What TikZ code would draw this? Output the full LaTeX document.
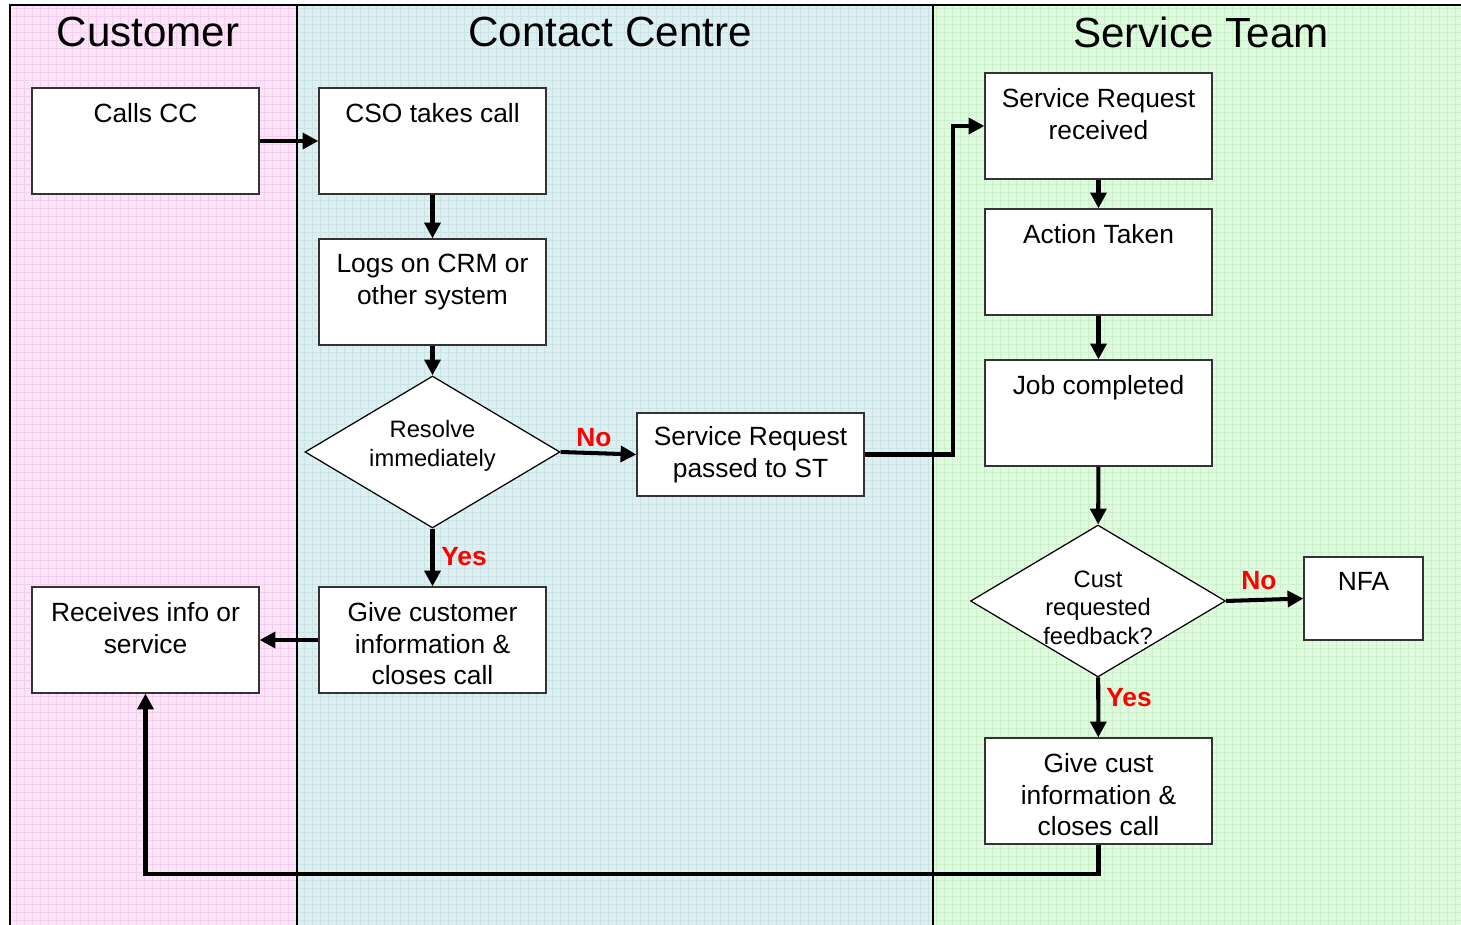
\documentclass[tikz,border=0pt]{standalone}
\usepackage{fontspec}
\setmainfont{Liberation Sans}
\usetikzlibrary{arrows.meta,shapes.geometric}

\definecolor{custfill}{RGB}{251,230,248}
\definecolor{custgrid}{RGB}{245,206,240}
\definecolor{ccfill}{RGB}{222,239,241}
\definecolor{ccgrid}{RGB}{202,228,232}
\definecolor{stfill}{RGB}{224,250,224}
\definecolor{stgrid}{RGB}{203,242,203}
\definecolor{answer}{RGB}{255,0,0}

\tikzset{
  box/.style={draw=black!80, line width=0.7pt, fill=white, minimum width=4.54cm, minimum height=2.12cm, inner sep=0pt},
  boxtext/.style={anchor=north, yshift=-0.31cm, inner sep=0pt, align=center, font=\fontsize{15}{18.1}\selectfont},
  passbox/.style={box, minimum height=1.66cm, align=center, font=\fontsize{15}{18.1}\selectfont},
  decision/.style={diamond, aspect=1.68, draw=black, line width=0.7pt, fill=white, minimum width=5.1cm, minimum height=3.04cm, inner sep=0pt},
  decisiontext/.style={anchor=center, inner sep=0pt, align=center, font=\fontsize{13.5}{16.3}\selectfont},
  flow/.style={line width=2.3pt, -{Triangle[length=9pt,width=9pt]}},
  answertext/.style={text=answer, font=\fontsize{15}{18}\selectfont\bfseries},
  lanetitle/.style={font=\fontsize{24}{28}\selectfont},
  lanegrid/.style={line width=0.3pt, step=0.16cm}
}

\begin{document}
\begin{tikzpicture}[x=0.02cm, y=-0.02cm]
    \useasboundingbox (0,0) rectangle (1461,925);

    % Corsie
    \fill[custfill] (10,5) rectangle (297,925);
    \fill[ccfill] (297,5) rectangle (933,925);
    \fill[stfill] (933,5) rectangle (1461,925);
    \begin{scope}
        \clip (10,5) rectangle (297,925);
        \draw[lanegrid, custgrid] (0,930) grid (300,0);
    \end{scope}
    \begin{scope}
        \clip (297,5) rectangle (933,925);
        \draw[lanegrid, ccgrid] (290,930) grid (940,0);
    \end{scope}
    \begin{scope}
        \clip (933,5) rectangle (1461,925);
        \draw[lanegrid, stgrid] (930,930) grid (1461,0);
    \end{scope}
    \draw[line width=1.1pt] (10,925) -- (10,5) -- (1461,5);
    \draw[line width=1.1pt] (297,5) -- (297,925);
    \draw[line width=1.1pt] (933,5) -- (933,925);

    % Titoli
    \node[lanetitle] (custtitle) at (148,32) {Customer};
    \node[lanetitle] (cctitle) at (610,32) {Contact Centre};
    \node[lanetitle] (sttitle) at (1201,32) {Service Team};

    % Customer
    \node[box, label={[boxtext]north:Calls CC}] (calls) at (145.5,141) {};
    \node[box, label={[boxtext]north:Receives info or\\service}] (receives) at (145.5,640) {};

    % Contact Centre
    \node[box, label={[boxtext]north:CSO takes call}] (cso) at (432.5,141) {};
    \node[box, label={[boxtext]north:Logs on CRM or\\other system}] (logs) at (432.5,292) {};
    \node[decision, label={[decisiontext, yshift=0.12cm]center:Resolve\\immediately}] (resolve) at (432.5,452) {};
    \node[box, label={[boxtext]north:Give customer\\information \&\\closes call}] (givecust) at (432.5,640) {};
    \node[passbox] (srpass) at (750.5,454.5) {Service Request\\passed to ST};

    % Service Team
    \node[box, label={[boxtext]north:Service Request\\received}] (srrec) at (1098.5,126) {};
    \node[box, label={[boxtext]north:Action Taken}] (action) at (1098.5,262) {};
    \node[box, label={[boxtext]north:Job completed}] (job) at (1098.5,413) {};
    \node[decision, label={[decisiontext, yshift=-0.13cm]center:Cust\\requested\\feedback?}] (feedback) at (1098,601) {};
    \node[box, minimum width=2.38cm, minimum height=1.66cm, label={[boxtext]north:NFA}] (nfa) at (1363.5,598.5) {};
    \node[box, label={[boxtext]north:Give cust\\information \&\\closes call}] (givecust2) at (1098.5,791) {};

    % Risposte
    \node[answertext] (noA) at (594,438) {No};
    \node[answertext] (yesA) at (464,557) {Yes};
    \node[answertext] (noB) at (1259,581) {No};
    \node[answertext] (yesB) at (1129,698) {Yes};

    % Frecce
    \draw[flow] (calls) -- (cso);
    \draw[flow] (cso) -- (logs);
    \draw[flow] (logs) -- (resolve);
    \draw[flow] (resolve.east) -- (srpass.west);
    \draw[flow] (resolve) -- (givecust);
    \draw[flow] (givecust) -- (receives);
    \draw[flow] (srpass.east) -- ++(88,0) |- (srrec.west);
    \draw[flow] (srrec) -- (action);
    \draw[flow] (action) -- (job);
    \draw[flow] (job) -- (feedback);
    \draw[flow] (feedback.east) -- (nfa.west);
    \draw[flow] (feedback) -- (givecust2);
    \draw[flow] (givecust2.south) -- ++(0,29) -| (receives.south);

\end{tikzpicture}
\end{document}
